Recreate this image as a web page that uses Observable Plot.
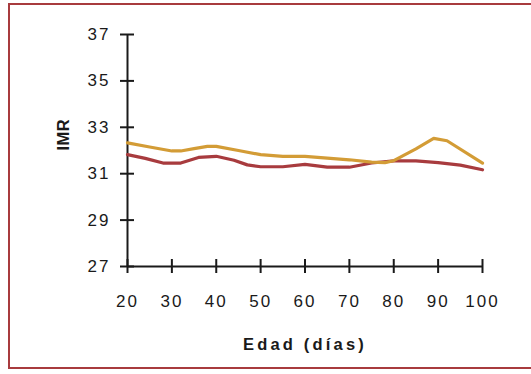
<!DOCTYPE html>
<html>
<head>
<meta charset="utf-8">
<script src="https://cdn.jsdelivr.net/npm/d3@7"></script>
<script src="https://cdn.jsdelivr.net/npm/@observablehq/plot@0.6"></script>
<style>
  html, body { margin: 0; padding: 0; background: #fff; overflow: hidden; }
  #wrap { position: relative; width: 531px; height: 374px; overflow: hidden; }
  #frame { position: absolute; left: 8px; top: 3px; width: 523px; height: 366px; border: 2px solid #a83b3e; border-right: none; box-sizing: border-box; pointer-events: none; }
  #chart svg { display: block; }
  g[aria-label="x-axis tick label"] text, g[aria-label="y-axis tick label"] text { letter-spacing: 2px; }
  .xlab text { letter-spacing: 3.2px; font-weight: 600; }
  .ylab text { letter-spacing: 0.5px; font-weight: 600; }
</style>
</head>
<body>
<div id="wrap"><div id="chart"></div><div id="frame"></div></div>
<script>
// Gold series
const daysGold = [20, 25, 30, 32, 35, 38, 40, 45, 50, 55, 60, 65, 70, 75, 78, 80, 85, 89, 92, 100];
const imrGold  = [32.33, 32.15, 31.98, 31.98, 32.08, 32.18, 32.18, 32.0, 31.82, 31.75, 31.75, 31.67, 31.6, 31.5, 31.48, 31.56, 32.07, 32.52, 32.42, 31.46];
// Red series
const daysRed = [20, 24, 28, 32, 36, 40, 44, 47, 50, 55, 60, 65, 70, 75, 80, 85, 90, 95, 100];
const imrRed  = [31.82, 31.66, 31.46, 31.46, 31.7, 31.75, 31.58, 31.38, 31.3, 31.3, 31.4, 31.28, 31.28, 31.46, 31.55, 31.55, 31.48, 31.37, 31.17];

const xTicks = [20, 30, 40, 50, 60, 70, 80, 90, 100];
const yTicks = [27, 29, 31, 33, 35, 37];
const xLabel = "Edad (días)";
const yLabel = "IMR";

const gold = daysGold.map((d, i) => ({x: d, y: imrGold[i]}));
const red = daysRed.map((d, i) => ({x: d, y: imrRed[i]}));

const chart = Plot.plot({
  width: 531,
  height: 374,
  marginLeft: 127,
  marginRight: 49,
  marginTop: 34,
  marginBottom: 108,
  style: {fontFamily: "'Liberation Sans', Arial, sans-serif", fontSize: "17px", color: "#1a1a1a", background: "transparent", overflow: "visible"},
  x: {domain: [20, 100]},
  y: {domain: [27, 37]},
  marks: [
    Plot.axisY({ticks: yTicks, tickSize: 7, tickPadding: 10, strokeWidth: 2, label: null}),
    Plot.axisY({ticks: yTicks, tickSize: -7, strokeWidth: 2, text: null, label: null}),
    Plot.axisX({ticks: xTicks, tickSize: 7, tickPadding: 21, strokeWidth: 2, label: null}),
    Plot.axisX({ticks: xTicks, tickSize: -7, strokeWidth: 2, text: null, label: null}),
    Plot.text([xLabel], {frameAnchor: "bottom", dy: 78, lineAnchor: "middle", className: "xlab", fill: "#1a1a1a", fontSize: 16.5}),
    Plot.text([yLabel], {frameAnchor: "left", dx: -64, rotate: -90, lineAnchor: "middle", className: "ylab", fill: "#1a1a1a", fontSize: 16.5}),
    Plot.ruleX([20], {stroke: "#1a1a1a", strokeWidth: 2}),
    Plot.ruleY([27], {stroke: "#1a1a1a", strokeWidth: 2}),
    Plot.line(red, {x: "x", y: "y", stroke: "#a83b3e", strokeWidth: 3.2}),
    Plot.line(gold, {x: "x", y: "y", stroke: "#d39c36", strokeWidth: 3.2})
  ]
});
document.getElementById("chart").appendChild(chart);
</script>
</body>
</html>
